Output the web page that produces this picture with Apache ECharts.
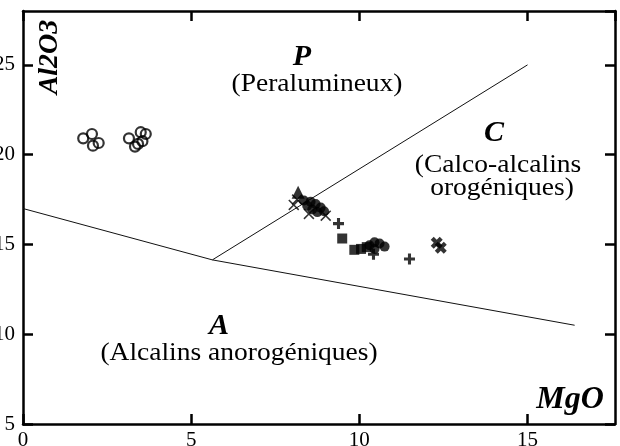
<!DOCTYPE html>
<html>
<head>
<meta charset="utf-8">
<style>
  html, body { margin: 0; padding: 0; background: #fff; }
  #chart { width: 620px; height: 446px; }
</style>
<script src="https://cdn.jsdelivr.net/npm/echarts@6.0.0/dist/echarts.min.js"></script>
</head>
<body>
<div id="chart"></div>
<script>
// MgO (x) / Al2O3 (y) values
var circles = [
  [1.79, 20.91], [2.05, 21.15], [2.25, 20.65], [2.08, 20.5],
  [3.15, 20.91], [3.5, 21.25], [3.65, 21.15], [3.42, 20.6], [3.33, 20.45], [3.55, 20.75]
];
var triangles = [[8.18, 17.9]];
var thinCross = [[8.05, 17.2], [8.15, 17.5], [8.5, 16.7], [9.0, 16.6]];
var blobA = [
  [8.35, 17.45], [8.55, 17.38], [8.7, 17.25], [8.85, 17.05],
  [8.6, 16.95], [8.95, 16.85], [8.45, 17.15], [8.75, 16.8]
];
var plus = [[9.38, 16.16], [11.49, 14.19], [10.42, 14.45]];
var squares = [[9.49, 15.33], [9.85, 14.7], [10.05, 14.75], [10.22, 14.85]];
var blobB = [[10.3, 14.95], [10.45, 15.12], [10.6, 15.05], [10.75, 14.88], [10.45, 14.75]];
var thickCross = [[12.3, 15.1], [12.42, 14.82]];

var lowerBound = [[0, 17], [5.63, 14.14], [16.4, 10.5]];
var upperBound = [[5.63, 14.14], [15, 25]];

var SERIF = "'Liberation Serif', 'DejaVu Serif', serif";
var chart = echarts.init(document.getElementById("chart"), null, { renderer: "canvas" });

function axisBase(pos, showLabel) {
  return {
    type: "value",
    position: pos,
    interval: 5,
    axisLine: { show: true, onZero: false, lineStyle: { color: "#000", width: 2.5 } },
    axisTick: { show: true, inside: true, length: 10, lineStyle: { color: "#000", width: 2.5 } },
    splitLine: { show: false },
    axisLabel: {
      show: showLabel, color: "#000", fontFamily: SERIF, fontSize: 21, margin: 8,
      showMaxLabel: false
    }
  };
}

var xb = axisBase("bottom", true);
xb.min = 0; xb.max = 17.6;
xb.axisLabel.margin = 6;
var xt = axisBase("top", false);
xt.min = 0; xt.max = 17.6;
var yl = axisBase("left", true);
yl.min = 5; yl.max = 28;
var yr = axisBase("right", false);
yr.min = 5; yr.max = 28;

function sc(name, data, symbol, size, filled) {
  return {
    name: name, type: "scatter", data: data, symbol: symbol, symbolSize: size,
    itemStyle: filled
      ? { color: "#000" }
      : { color: "rgba(0,0,0,0)", borderColor: "#000", borderWidth: 2.2 },
    emphasis: { disabled: true },
    z: 5
  };
}

function line(data) {
  return {
    type: "line", data: data, symbol: "none", silent: true,
    lineStyle: { color: "#111", width: 1 }, z: 3
  };
}

var thinX = "path://M0,1L1,0L5,4L9,0L10,1L6,5L10,9L9,10L5,6L1,10L0,9L4,5Z";
var thickX = "path://M0,2.5L2.5,0L5,2.5L7.5,0L10,2.5L7.5,5L10,7.5L7.5,10L5,7.5L2.5,10L0,7.5L2.5,5Z";
var plusSym = "path://M3.6,0H6.4V3.6H10V6.4H6.4V10H3.6V6.4H0V3.6H3.6Z";

function txt(x, y, text, size, bold, extra) {
  return Object.assign({
    type: "text", x: x, y: y,
    style: {
      text: text, fontFamily: SERIF, fontSize: size,
      fontWeight: bold ? "bold" : "normal", fontStyle: bold ? "italic" : "normal",
      fill: "#000", textAlign: "center", textVerticalAlign: "middle"
    },
    z: 10
  }, extra || {});
}

var wide = { scaleX: 1.1 };

var option = {
  animation: false,
  backgroundColor: "#fff",
  grid: { left: 23, right: 5, top: 11, bottom: 22, outerBoundsMode: "none", containLabel: false },
  xAxis: [xb, xt],
  yAxis: [yl, yr],
  series: [
    line(lowerBound),
    line(upperBound),
    sc("circles", circles, "circle", 10, false),
    sc("triangles", triangles, "triangle", 13, true),
    sc("blobA", blobA, "circle", 10, true),
    sc("thinCross", thinCross, thinX, 11, true),
    sc("plus", plus, plusSym, 11, true),
    sc("squares", squares, "rect", 10, true),
    sc("blobB", blobB, "circle", 10, true),
    sc("thickCross", thickCross, thickX, 12, true)
  ],
  graphic: [
    txt(50, 57, "Al2O3", 28, true, { rotation: Math.PI / 2 }),
    txt(302, 57, "P", 30, true),
    txt(317, 84, "(Peralumineux)", 25, false, wide),
    txt(494, 133, "C", 30, true),
    txt(498, 165, "(Calco-alcalins", 25, false, wide),
    txt(502, 188, "orogéniques)", 25, false, wide),
    txt(219, 326, "A", 30, true),
    txt(239, 353, "(Alcalins anorogéniques)", 25, false, wide),
    txt(570, 400, "MgO", 32, true)
  ]
};
chart.setOption(option);
</script>
</body>
</html>
